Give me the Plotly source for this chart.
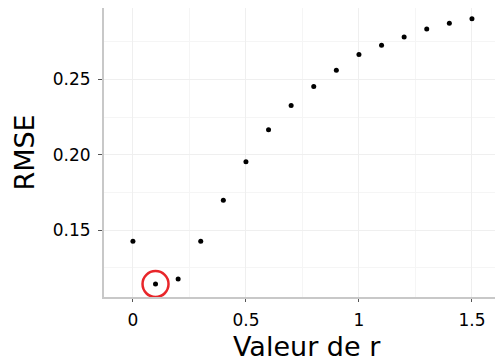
import plotly.graph_objects as go

r_values = [0.0, 0.1, 0.2, 0.3, 0.4, 0.5, 0.6, 0.7, 0.8, 0.9, 1.0, 1.1, 1.2, 1.3, 1.4, 1.5]
rmse_values = [0.1427, 0.1142, 0.1176, 0.1427, 0.1699, 0.1954, 0.2166, 0.2327, 0.2454,
               0.2562, 0.2666, 0.2727, 0.2783, 0.2836, 0.2873, 0.2904]
x_tick_vals = [0, 0.5, 1, 1.5]
x_tick_text = ["0", "0.5", "1", "1.5"]
y_tick_vals = [0.15, 0.20, 0.25]
y_tick_text = ["0.15", "0.20", "0.25"]
x_title = "Valeur de r"
y_title = "RMSE"

best = min(range(len(rmse_values)), key=lambda i: rmse_values[i])

fig = go.Figure()
fig.add_trace(go.Scatter(x=r_values, y=rmse_values, mode="markers",
                         marker=dict(color="black", size=5), showlegend=False,
                         hoverinfo="skip"))
fig.add_trace(go.Scatter(x=[r_values[best]], y=[rmse_values[best]], mode="markers",
                         marker=dict(symbol="circle-open", color="#e8262a", size=26,
                                     line=dict(width=2.5, color="#e8262a")),
                         showlegend=False, hoverinfo="skip"))

fig.update_layout(
    width=496, height=362,
    margin=dict(l=104, r=1, t=8, b=65),
    plot_bgcolor="white", paper_bgcolor="white",
    font=dict(family="DejaVu Sans", color="black"),
    xaxis=dict(range=[-0.128, 1.602], tickvals=x_tick_vals, ticktext=x_tick_text,
               showgrid=True, gridcolor="#efefef", gridwidth=1,
               minor=dict(dtick=0.25, tick0=0, showgrid=True, gridcolor="#f5f5f5"),
               showline=True, linecolor="#c8c8c8", linewidth=2, zeroline=False,
               ticks="outside", ticklen=3, tickcolor="#555", tickwidth=1,
               tickfont=dict(size=17), ticklabelstandoff=4),
    yaxis=dict(range=[0.1056, 0.2975], tickvals=y_tick_vals, ticktext=y_tick_text,
               showgrid=True, gridcolor="#efefef", gridwidth=1,
               minor=dict(dtick=0.025, tick0=0.125, showgrid=True, gridcolor="#f5f5f5"),
               showline=True, linecolor="#c8c8c8", linewidth=2, zeroline=False,
               ticks="outside", ticklen=4, tickcolor="#555", tickwidth=1,
               tickfont=dict(size=17), ticklabelstandoff=4,
               title=dict(text=y_title, font=dict(size=27), standoff=10)),
    annotations=[dict(text=x_title, xref="paper", yref="paper",
                      x=0.519, y=-0.112, xanchor="center", yanchor="top",
                      showarrow=False, font=dict(size=27))],
)

fig.write_html("out.html", config={"displayModeBar": False},
               post_script="document.body.style.margin='0';")
